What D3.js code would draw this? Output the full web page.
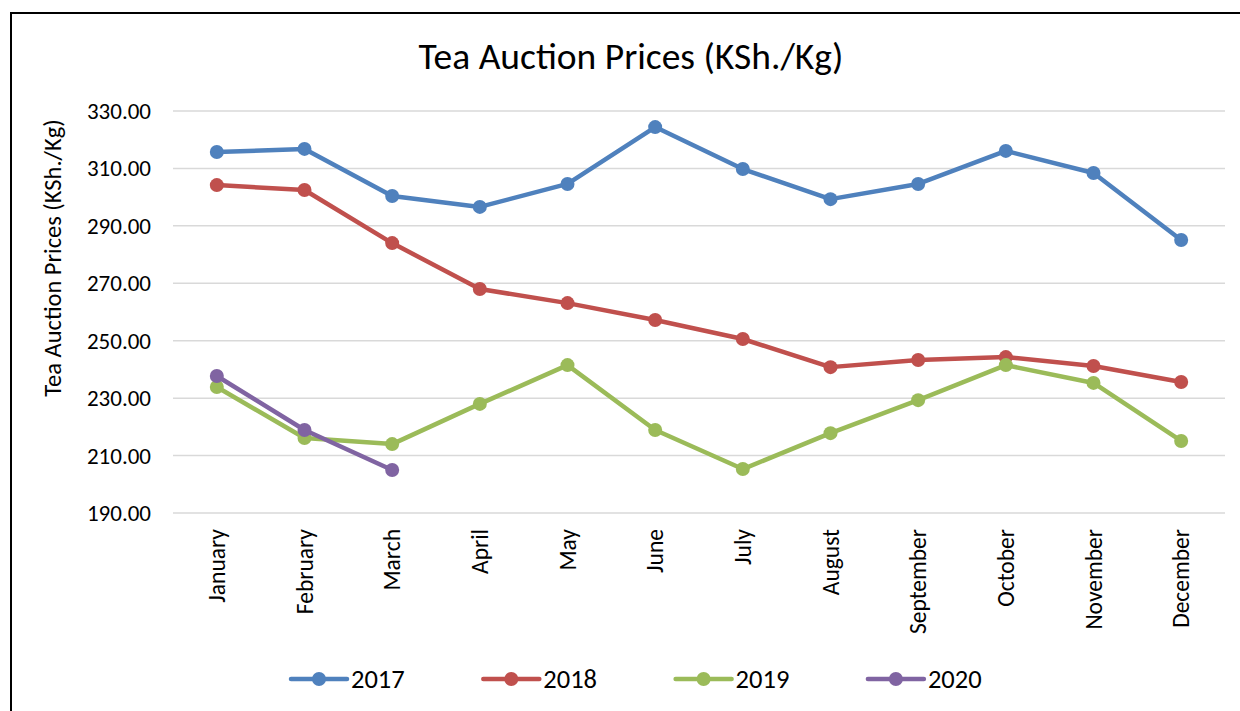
<!DOCTYPE html>
<html>
<head>
<meta charset="utf-8">
<script src="https://cdn.jsdelivr.net/npm/d3@7"></script>
<style>
  body { margin: 0; background: #fff; }
  text { font-family: Carlito, Lato, "Open Sans", sans-serif; fill: #000; }
</style>
</head>
<body>
<div class="chart"></div>
<script>
var months = ["January", "February", "March", "April", "May", "June", "July",
    "August", "September", "October", "November", "December"];
var years = ["2017", "2018", "2019", "2020"];
var colors = ["#4F81BD", "#C0504D", "#9BBB59", "#8064A2"];
var prices2017 = [315.7, 316.8, 300.4, 296.6, 304.6, 324.4, 309.8, 299.3, 304.6, 316.1, 308.4, 285.1];
var prices2018 = [304.2, 302.5, 284.0, 268.0, 263.1, 257.2, 250.6, 240.8, 243.3, 244.3, 241.2, 235.6];
var prices2019 = [233.9, 216.1, 214.0, 228.0, 241.5, 218.9, 205.3, 217.8, 229.3, 241.5, 235.3, 215.1];
var prices2020 = [237.7, 218.9, 205.0];
var yTicks = [190, 210, 230, 250, 270, 290, 310, 330];

var series = [prices2017, prices2018, prices2019, prices2020];

var svg = d3.select(".chart").append("svg")
    .attr("width", 1240).attr("height", 711);

// outer frame
svg.append("rect")
    .attr("x", 11).attr("y", 13).attr("width", 1240).attr("height", 720)
    .attr("fill", "none").attr("stroke", "#000").attr("stroke-width", 2);

var x = d3.scaleBand().domain(months).range([173, 1225]);
var y = d3.scaleLinear().domain([190, 330]).range([513, 111]);

// gridlines
svg.append("g").selectAll("line").data(yTicks).enter().append("line")
    .attr("x1", 173).attr("x2", 1225)
    .attr("y1", function (d) { return y(d); })
    .attr("y2", function (d) { return y(d); })
    .attr("stroke", "#d9d9d9").attr("stroke-width", 1.5);

// y tick labels
svg.append("g").selectAll("text").data(yTicks).enter().append("text")
    .attr("x", 151).attr("y", function (d) { return y(d) + 8; })
    .attr("text-anchor", "end").attr("font-size", 23)
    .text(function (d) { return d3.format(".2f")(d); });

// month labels
svg.append("g").selectAll("text").data(months).enter().append("text")
    .attr("transform", function (d) {
        return "translate(" + (x(d) + x.bandwidth() / 2 + 8) + ",529) rotate(-90)";
    })
    .attr("text-anchor", "end").attr("font-size", 23.5)
    .text(function (d) { return d; });

// title
svg.append("text").attr("x", 631).attr("y", 69)
    .attr("text-anchor", "middle").attr("font-size", 37.5)
    .text("Tea Auction Prices (KSh./Kg)");

// y axis title
svg.append("text")
    .attr("transform", "translate(61,258) rotate(-90)")
    .attr("text-anchor", "middle").attr("font-size", 24.5)
    .text("Tea Auction Prices (KSh./Kg)");

var line = d3.line()
    .x(function (d, i) { return x(months[i]) + x.bandwidth() / 2; })
    .y(function (d) { return y(d); });

series.forEach(function (vals, k) {
    var g = svg.append("g");
    g.append("path").datum(vals)
        .attr("d", line)
        .attr("fill", "none")
        .attr("stroke", colors[k])
        .attr("stroke-width", 4.5)
        .attr("stroke-linejoin", "round");
    g.selectAll("circle").data(vals).enter().append("circle")
        .attr("cx", function (d, i) { return x(months[i]) + x.bandwidth() / 2; })
        .attr("cy", function (d) { return y(d); })
        .attr("r", 7)
        .attr("fill", colors[k]);
});

// legend
var legend = svg.append("g").selectAll("g").data(years).enter().append("g")
    .attr("transform", function (d, i) { return "translate(" + (291 + i * 192.3) + ",679)"; });
legend.append("line")
    .attr("x1", 0).attr("x2", 56).attr("y1", 0).attr("y2", 0)
    .attr("stroke", function (d, i) { return colors[i]; })
    .attr("stroke-width", 4.5).attr("stroke-linecap", "round");
legend.append("circle")
    .attr("cx", 28).attr("cy", 0).attr("r", 7)
    .attr("fill", function (d, i) { return colors[i]; });
legend.append("text")
    .attr("x", 60).attr("y", 9).attr("font-size", 26.5)
    .text(function (d) { return d; });
</script>
</body>
</html>
